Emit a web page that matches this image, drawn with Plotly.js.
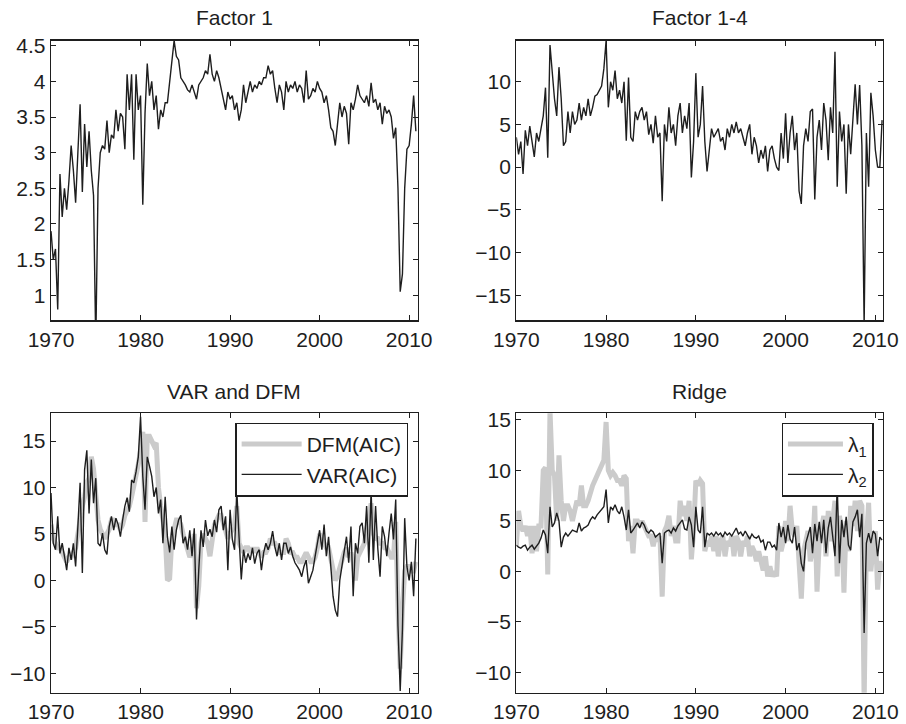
<!DOCTYPE html>
<html>
<head>
<meta charset="utf-8">
<script src="https://cdn.plot.ly/plotly-3.0.1.min.js"></script>
<style>
  html, body { margin: 0; padding: 0; background: #fff; }
  #chart { width: 906px; height: 724px; }
</style>
</head>
<body>
<div id="chart"></div>
<script>
/* Four panels of forecast series, 1970-2010 at quarterly steps */

const START_YEAR = 1970;
const STEP = 0.25;

// Factor 1
const factor1 = [
  1.9, 1.5, 1.65, 0.8,
  2.7, 2.1, 2.5, 2.2,
  2.6, 3.1, 2.75, 2.3,
  3.0, 3.68, 2.45, 3.4,
  2.8, 3.3, 2.75, 2.4,
  0.3, 2.5, 3.0, 3.1,
  3.05, 3.45, 3.0, 3.25,
  3.2, 3.6, 3.3, 3.55,
  3.5, 3.05, 4.1, 3.6,
  4.1, 2.9, 4.1, 3.6,
  3.8, 2.27, 3.55, 4.25,
  3.8, 4.0, 3.6, 3.8,
  3.33, 3.6, 3.5, 3.7,
  3.7, 4.0, 4.2, 4.57,
  4.35, 4.3, 4.05, 4.0,
  3.95, 3.88, 3.85, 3.95,
  3.85, 3.75, 3.95, 4.0,
  4.05, 4.15, 4.1, 4.38,
  4.1, 4.0, 4.15, 4.05,
  3.9, 3.8, 3.6, 3.85,
  3.75, 3.8, 3.6, 3.7,
  3.45, 3.6, 3.95, 3.7,
  3.85, 4.0, 3.85, 3.95,
  3.9, 4.0, 3.95, 4.05,
  4.05, 4.22, 4.1, 4.15,
  3.9, 3.7, 3.95, 3.85,
  3.6, 4.0, 3.85, 3.95,
  3.9, 4.0, 3.85, 3.95,
  3.9, 3.7, 4.15, 3.75,
  3.8, 3.9, 3.85, 4.0,
  3.9, 3.85, 3.7, 3.8,
  3.6, 3.35, 3.3, 3.1,
  3.4, 3.7, 3.5, 3.65,
  3.55, 3.12, 3.7, 3.6,
  3.75, 3.95, 3.8, 3.75,
  3.7, 3.8, 3.65, 3.98,
  3.7, 3.75, 3.6, 3.7,
  3.4, 3.65, 3.55, 3.6,
  3.5, 3.2, 3.35, 2.5,
  1.05, 1.3, 2.5, 3.05,
  3.1, 3.4, 3.8, 3.3
];

// Factor 1-4
const factor14 = [
  3.5, 1.5, 3.0, -0.8,
  4.3, 2.5, 4.8, 2.8,
  1.2, 4.0, 3.0, 4.5,
  6.0, 9.3, 1.1, 14.3,
  11.0, 8.0, 6.0, 11.7,
  8.0, 2.5, 3.0, 6.5,
  4.0, 6.5, 5.0, 5.5,
  7.5, 5.5, 7.0, 6.0,
  8.0, 6.0, 7.0, 8.3,
  8.5, 9.0, 9.5, 11.5,
  14.8, 7.0, 10.0, 9.0,
  11.3, 8.0, 9.0, 7.5,
  10.0, 3.1, 10.5, 3.5,
  3.0, 6.5, 5.5, 6.5,
  7.0, 5.5, 6.5, 3.8,
  5.0, 2.8, 6.0, 3.5,
  4.0, -4.0, 5.0, 3.0,
  7.0, 4.0, 5.0, 2.5,
  6.0, 7.5, 4.0, 6.0,
  4.5, 7.5, -1.2, 3.0,
  11.0, 3.5, 5.0, 9.5,
  3.0, -0.5, 2.0, 4.5,
  3.5, 4.0, 4.5, 3.0,
  3.5, 2.0, 4.5, 3.5,
  5.0, 4.0, 5.3, 4.0,
  4.5, 3.5, 2.5, 4.0,
  5.0, 1.5, 3.5, 2.5,
  0.5, 2.0, 1.0, 2.5,
  -0.5, 2.0, 2.5, 1.0,
  0.0, -0.4, 4.0, 1.0,
  6.3, 0.5, 4.0, 6.0,
  2.0, 4.0, -2.8, -4.3,
  2.5, 4.5, 3.0, 6.5,
  6.8, -3.8, 3.5, 5.5,
  2.0, 7.5, 5.5, 0.8,
  7.0, 4.0, 13.5, -2.3,
  6.5, 3.0, 5.0, -3.1,
  5.0, 1.5, 6.0, 9.7,
  5.0, 9.6, 2.5, -18.5,
  4.0, -2.3, 8.7, 6.0,
  2.0, 0.0, 0.0, 5.5
];

// VAR and DFM
const dfmAic = [
  6.0, 4.5, 4.0, 3.5,
  3.5, 3.0, 2.5, 2.0,
  2.5, 2.5, 3.0, 3.5,
  5.0, 7.0, 8.0, 9.0,
  10.5, 11.0, 13.3, 12.0,
  8.5, 6.5, 5.5, 5.0,
  4.5, 5.0, 5.5, 6.5,
  6.5, 6.0, 6.0, 5.5,
  6.0, 7.0, 7.5, 8.0,
  9.0, 10.0, 11.5, 12.5,
  14.0, 16.0, 6.3, 15.5,
  15.5, 15.0, 14.5, 14.8,
  10.0, 8.0, 6.0, 5.0,
  0.0, 0.2, 4.5, 5.5,
  6.5, 6.5, 6.0, 5.0,
  4.0, 3.5, 2.5, 3.0,
  5.0, -3.0, -0.6, 4.0,
  5.0, 4.5, 4.0, 2.6,
  4.5, 6.0, 6.5, 7.0,
  7.0, 6.0, 5.0, 4.5,
  5.0, 5.5, 6.0, 8.0,
  4.0, 3.5, 3.0, 3.5,
  3.5, 3.0, 3.5, 3.0,
  3.5, 3.0, 2.5, 3.0,
  3.0, 3.5, 4.5, 4.0,
  4.0, 3.5, 3.0, 3.0,
  3.0, 4.5, 4.0, 3.0,
  3.0, 2.5, 2.5, 2.0,
  2.0, 2.5, 3.0, 2.5,
  2.0, 2.0, 2.5, 3.5,
  5.0, 4.5, 4.0, 3.5,
  3.5, 2.5, 1.0, 0.0,
  0.5, 1.5, 2.5, 3.0,
  3.5, 2.5, 3.0, 2.0,
  0.0, 2.5, 3.0, 3.5,
  4.0, 5.5, 6.5, 8.3,
  5.0, 4.5, 4.5, 4.0,
  4.0, 3.5, 3.5, 3.0,
  2.5, 2.5, 6.3, -3.0,
  -9.5, -3.0, 1.0, 1.5,
  1.5, 1.0, 1.0, 2.0
];

const varAic = [
  9.4, 4.0, 3.3, 6.9,
  2.9, 4.0, 2.6, 1.1,
  3.5, 2.2, 4.0, 1.5,
  5.8, 10.5, 0.8, 11.9,
  14.0, 7.2, 13.0, 8.3,
  11.0, 4.0, 3.7, 5.1,
  3.3, 2.8, 5.8, 6.9,
  5.4, 6.7, 6.0, 4.7,
  6.5, 8.0, 8.9, 7.4,
  10.8, 10.5, 11.7, 13.3,
  17.6, 11.2, 7.6, 13.3,
  12.3, 11.2, 9.0, 10.0,
  7.2, 8.7, 4.0, 9.0,
  4.7, 3.0, 5.8, 3.3,
  5.4, 6.5, 7.0, 4.0,
  4.7, 3.3, 5.4, 2.6,
  5.6, -4.2, 1.1, 5.4,
  3.6, 6.5, 4.8, 5.5,
  4.7, 6.5, 5.2, 7.6,
  8.0, 5.4, 6.9, 1.1,
  7.6, 4.4, 3.3, 9.7,
  4.7, 0.1, 3.3, 1.9,
  2.9, 2.2, 3.5, 1.8,
  2.9, 3.3, 1.1, 3.0,
  4.0, 3.3, 4.0, 5.3,
  3.6, 2.6, 4.0, 2.2,
  4.0, 4.0, 2.9, 3.6,
  2.6, 1.9, 1.5, 1.1,
  0.4, 1.5, 2.2, -0.3,
  0.4, 1.1, 2.6, 4.0,
  5.4, 3.3, 6.0, 2.6,
  4.7, 1.5, -1.7, -3.2,
  -3.9, 0.0, 1.5, 3.3,
  4.7, 1.9, 5.8, -1.7,
  4.0, 2.9, 5.8, 6.2,
  4.0, 8.0, 1.9, 9.7,
  2.2, 8.0, 3.4, 0.4,
  5.8, 4.7, 2.6, 5.1,
  7.2, 4.4, 8.7, -4.9,
  -11.9, -5.2, 6.7, 1.5,
  0.0, 2.0, -1.7, 4.5
];

// Ridge
const lambda1 = [
  2.5, 6.0, 4.5, 4.0,
  4.5, 3.5, 4.5, 1.8,
  4.5, 2.0, 4.5, 4.5,
  10.0, 10.3, -0.3, 16.0,
  10.0, 9.5, 5.0, 11.5,
  7.0, 5.0, 6.5, 6.5,
  6.0, 5.0, 6.0, 7.0,
  6.5, 8.5, 6.5, 6.5,
  7.0, 8.0, 8.5, 9.0,
  9.5, 10.0, 10.5, 11.0,
  14.8, 10.0, 9.5, 9.8,
  9.5, 9.0, 9.0, 8.5,
  9.5, 9.2, 3.0, 4.5,
  1.8, 5.0, 5.0, 4.5,
  5.0, 4.5, 4.0, 3.5,
  3.5, 2.5, 3.5, 3.0,
  3.5, -2.5, 4.0, 4.5,
  5.5, 3.5, 4.5, 3.0,
  3.0, 7.0, 5.5, 6.5,
  5.0, 7.0, 1.2, 4.0,
  9.0, 8.5, 9.0, 8.7,
  2.0, 3.0, 2.5, 3.5,
  2.0, 3.5, 1.5, 3.0,
  3.5, 1.5, 3.0, 2.5,
  3.5, 1.5, 3.5, 3.0,
  1.5, 3.0, 2.5, 3.5,
  1.5, 2.5, 2.0, 1.0,
  2.0, 1.0, 0.1, 1.5,
  -0.5, 0.5, -0.5, 0.0,
  -0.5, 4.5, 2.0, 3.0,
  5.0, 3.0, 6.5, 4.0,
  3.5, 4.5, 1.5, -2.7,
  2.0, 3.0, 4.0, 1.0,
  2.0, 6.5, -2.0, 3.0,
  4.0, 5.5, 1.5, 6.0,
  3.0, 5.0, 7.0, -0.5,
  5.5, 4.0, -2.1, 5.0,
  2.0, 6.5, 4.5, 7.0,
  4.0, 7.0, 6.5, -13.0,
  3.0, 6.8, 0.0, 2.5,
  4.0, -1.8, 1.0, 0.0
];

const lambda2 = [
  2.6, 2.4, 2.3, 2.5,
  2.6, 2.1, 2.4, 2.6,
  2.2, 2.5, 2.8, 3.3,
  4.1, 3.6, 1.8, 6.4,
  4.4, 4.8, 5.8, 5.0,
  2.4, 3.4, 3.8, 3.5,
  3.8, 4.1, 4.0, 3.9,
  4.8, 4.0, 4.3, 4.4,
  4.6, 5.1, 5.4, 5.2,
  5.6, 5.9, 6.1, 6.4,
  8.1, 4.8, 6.4, 6.1,
  6.6, 6.0, 5.7, 6.4,
  5.4, 4.1, 6.1, 3.8,
  4.1, 4.5, 4.8, 4.3,
  4.9, 4.6, 4.0, 3.8,
  4.1, 3.9, 3.4, 3.6,
  3.8, 0.8, 3.8, 4.0,
  4.1, 3.8, 4.3, 4.0,
  4.5, 4.8, 5.1, 4.2,
  4.1, 5.4, 4.6, 2.4,
  6.4, 4.1, 3.8, 6.4,
  2.4, 3.8, 3.6, 3.8,
  3.5, 3.9, 3.6, 3.8,
  3.4, 3.9, 3.6, 3.8,
  3.5, 3.9, 4.3, 3.7,
  3.9, 3.5, 4.0, 3.6,
  3.2, 3.7, 3.4, 3.3,
  3.5, 2.9, 3.1, 2.1,
  2.9, 2.9, 2.4, 2.6,
  2.1, 4.8, 3.4, 4.4,
  2.8, 4.6, 3.2, 2.8,
  4.4, 2.1, 2.8, 0.8,
  0.0, 2.8, 3.7, 4.4,
  1.8, 4.7, 3.0, 4.9,
  2.8, 5.1, 1.8, 4.3,
  5.4, 3.4, 1.5, 8.5,
  0.8, 5.1, 3.4, 5.4,
  2.6, 2.1, 4.9, 5.4,
  6.1, 3.4, 5.7, -6.1,
  2.8, 3.8, 2.8, 4.0,
  3.7, 1.5, 3.4, 3.1
];

const panelTitles = ['Factor 1', 'Factor 1-4', 'VAR and DFM', 'Ridge'];
const xTicks = [1970, 1980, 1990, 2000, 2010];
const yTicksF1 = [1, 1.5, 2, 2.5, 3, 3.5, 4, 4.5];
const yTicksF14 = [-15, -10, -5, 0, 5, 10];
const yTicksLow = [-10, -5, 0, 5, 10, 15];

const quarters = factor1.map((_, i) => START_YEAR + i * STEP);

const INK = '#1e1e1e';
const GREY = '#cbcbcb';
const FONT = '"Liberation Sans", Arial, Helvetica, sans-serif';

function axis(extra) {
  return Object.assign({
    showline: true, mirror: 'allticks', linecolor: INK, linewidth: 1.3,
    ticks: 'inside', ticklen: 5, tickwidth: 1, tickcolor: INK,
    showgrid: false, zeroline: false, fixedrange: true,
    tickfont: { family: FONT, size: 21, color: INK },
  }, extra);
}

function line(y, xa, ya, color, width, extra) {
  return Object.assign({
    type: 'scatter', mode: 'lines', x: quarters, y: y,
    xaxis: xa, yaxis: ya, showlegend: false, hoverinfo: 'skip',
    line: { color: color, width: width },
  }, extra || {});
}

const traces = [
  line(factor1, 'x', 'y', INK, 1.4),
  line(factor14, 'x2', 'y2', INK, 1.4),
  line(dfmAic, 'x3', 'y3', GREY, 5, { name: 'DFM(AIC)', showlegend: true, legend: 'legend' }),
  line(varAic, 'x3', 'y3', INK, 1.4, { name: 'VAR(AIC)', showlegend: true, legend: 'legend' }),
  line(lambda1, 'x4', 'y4', GREY, 5, { name: 'λ<sub>1</sub>', showlegend: true, legend: 'legend2' }),
  line(lambda2, 'x4', 'y4', INK, 1.4, { name: 'λ<sub>2</sub>', showlegend: true, legend: 'legend2' }),
];

const LEFT = [0.0563, 0.4610], RIGHT = [0.5699, 0.9746];
const TOP = [0.5576, 0.9438], BOTTOM = [0.0432, 0.4291];

function legendBox(xRight, itemW) {
  return {
    x: xRight, xanchor: 'right', y: 0.4162, yanchor: 'top',
    bgcolor: '#fff', bordercolor: INK, borderwidth: 1.3,
    font: { family: FONT, size: 21, color: INK },
    tracegroupgap: 0, itemwidth: itemW,
  };
}

function titleNote(text, xDom, yPaper) {
  return {
    text: text, xref: 'paper', yref: 'paper',
    x: (xDom[0] + xDom[1]) / 2, y: yPaper, xanchor: 'center', yanchor: 'middle',
    showarrow: false, font: { family: FONT, size: 21, color: INK },
  };
}

const layout = {
  width: 906, height: 724,
  margin: { l: 0, r: 0, t: 0, b: 0 },
  paper_bgcolor: '#fff', plot_bgcolor: '#fff',
  font: { family: FONT, color: INK },
  xaxis: axis({ domain: LEFT, anchor: 'y', range: [1970, 2010.95], tickvals: xTicks }),
  yaxis: axis({ domain: TOP, anchor: 'x', range: [0.65, 4.57], tickvals: yTicksF1 }),
  xaxis2: axis({ domain: RIGHT, anchor: 'y2', range: [1970, 2010.85], tickvals: xTicks }),
  yaxis2: axis({ domain: TOP, anchor: 'x2', range: [-17.93, 14.8], tickvals: yTicksF14 }),
  xaxis3: axis({ domain: LEFT, anchor: 'y3', range: [1970, 2010.95], tickvals: xTicks }),
  yaxis3: axis({ domain: BOTTOM, anchor: 'x3', range: [-12.09, 17.98], tickvals: yTicksLow }),
  xaxis4: axis({ domain: RIGHT, anchor: 'y4', range: [1970, 2010.85], tickvals: xTicks }),
  yaxis4: axis({ domain: BOTTOM, anchor: 'x4', range: [-12.02, 15.66], tickvals: yTicksLow }),
  legend: legendBox(0.4507, 60),
  legend2: legendBox(0.9643, 55),
  annotations: [
    titleNote(panelTitles[0], LEFT, 1 - 18 / 724),
    titleNote(panelTitles[1], RIGHT, 1 - 18 / 724),
    titleNote(panelTitles[2], LEFT, 1 - 391 / 724),
    titleNote(panelTitles[3], RIGHT, 1 - 391 / 724),
  ],
};

Plotly.newPlot('chart', traces, layout, { displayModeBar: false, staticPlot: true });
</script>
</body>
</html>
